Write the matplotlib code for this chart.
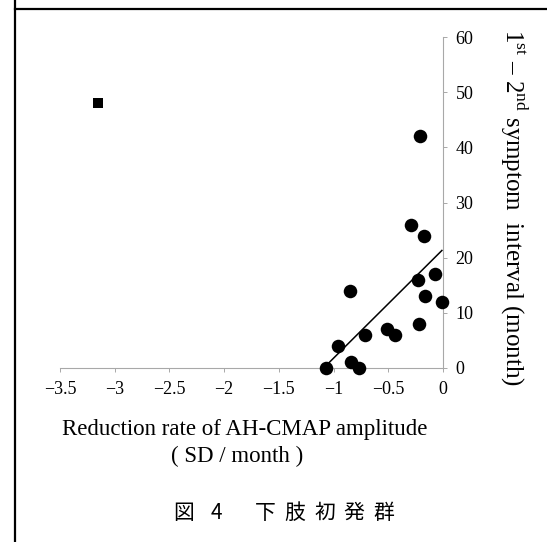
"""Scatter of 1st-2nd symptom interval vs AH-CMAP reduction rate (lower limb onset group)."""

import numpy as np
import matplotlib
matplotlib.use("Agg")
import matplotlib.pyplot as plt
from matplotlib.lines import Line2D

# lower-limb onset cases (circles)
rate = [-1.07, -0.96, -0.85, -0.84, -0.77, -0.71, -0.51, -0.44,
        -0.29, -0.17, -0.23, -0.07, -0.16, -0.01, -0.22, -0.21]
interval = [0, 4, 14, 1, 0, 6, 7, 6,
            26, 24, 16, 17, 13, 12, 8, 42]

# outlier case (square)
outlier_rate = [-3.15]
outlier_interval = [48]

x_ticks = [-3.5, -3, -2.5, -2, -1.5, -1, -0.5, 0]
x_tick_labels = ["\u22123.5", "\u22123", "\u22122.5", "\u22122", "\u22121.5", "\u22121", "\u22120.5", "0"]
y_ticks = [0, 10, 20, 30, 40, 50, 60]

x_label = "Reduction rate of AH-CMAP amplitude"
x_unit = "( SD / month )"
y_label = "1$^{\\rm st}$ \u2013 2$^{\\rm nd}$ symptom  interval (month)"
caption_head = ["図", "4"]
caption_tail = list("下肢初発群")

plt.rcParams["font.family"] = ["Liberation Serif", "DejaVu Serif"]
plt.rcParams["mathtext.fontset"] = "custom"
plt.rcParams["mathtext.rm"] = "Liberation Serif"

W, H = 547, 542
fig = plt.figure(figsize=(W / 100, H / 100), dpi=100)
ax = fig.add_axes([60 / W, 1 - 368 / H, 383 / W, 331 / H])

ax.scatter(rate, interval, s=95, color="black", marker="o", linewidths=0, clip_on=False, zorder=3)
ax.scatter(outlier_rate, outlier_interval, s=52, color="black", marker="s", linewidths=0, clip_on=False, zorder=3)

# least-squares line through the circle cases
slope, icept = np.polyfit(rate, interval, 1)
xs = np.array([min(rate), max(rate)])
ax.plot(xs, slope * xs + icept, color="black", lw=1.1, zorder=2)

ax.set_xlim(-3.5, 0)
ax.set_ylim(0, 60)
ax.set_xticks(x_ticks)
ax.set_xticklabels(x_tick_labels)
ax.set_yticks(y_ticks)

for side in ("top", "left"):
    ax.spines[side].set_visible(False)
for side in ("bottom", "right"):
    ax.spines[side].set_color("#a8a8a8")
    ax.spines[side].set_linewidth(0.8)
ax.yaxis.tick_right()
ax.tick_params(axis="both", direction="out", length=3, width=0.7, color="#a8a8a8",
               labelsize=13, labelcolor="black")
ax.tick_params(axis="x", pad=6)
ax.tick_params(axis="y", pad=6)
ax.set_facecolor("none")

fig.text(245 / W, 1 - 429 / H, x_label, ha="center", va="center", fontsize=16.5)
fig.text(237 / W, 1 - 456 / H, x_unit, ha="center", va="center", fontsize=16.5)
fig.text(513 / W, 1 - 207 / H, y_label, ha="center", va="center", rotation=-90, fontsize=18)

cjk = ["Noto Sans CJK JP", "DejaVu Sans"]
for ch, cx in zip(caption_head, [184, 216]):
    fig.text(cx / W, 1 - 513 / H, ch, ha="center", va="center", fontsize=15, family=cjk)
for i, ch in enumerate(caption_tail):
    fig.text((265 + 29.75 * i) / W, 1 - 513 / H, ch, ha="center", va="center", fontsize=15, family=cjk)

# page frame lines from the scanned figure
fig.add_artist(Line2D([15 / W, 15 / W], [0, 1], color="black", lw=1.6))
fig.add_artist(Line2D([15 / W, 1], [1 - 9 / H, 1 - 9 / H], color="black", lw=1.6))

fig.savefig("out.png", dpi=100)
